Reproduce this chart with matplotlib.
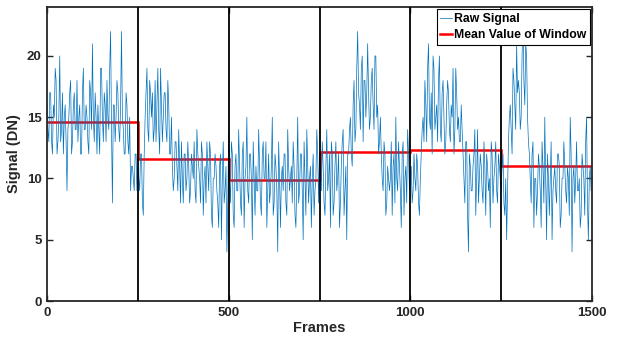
import matplotlib

matplotlib.use("Agg")

import numpy as np
import matplotlib.pyplot as plt

plt.rcParams['font.family'] = ['Liberation Sans', 'DejaVu Sans']
plt.rcParams['font.weight'] = 'bold'

# raw signal: one list per 250-frame window,
# "a" lists at frames 0, 5, 10, ... and "b" lists at 2.5, 7.5, ...
FRAME_STEP = 2.5
w1a = [16, 13, 17, 12, 15, 18, 13, 20, 14, 12,
       16, 9, 15, 18, 13, 17, 14, 13, 16, 12,
       19, 14, 15, 12, 17, 21, 13, 15, 16, 12,
       19, 13, 16, 18, 14, 22, 8, 16, 15, 17,
       13, 22, 14, 12, 16, 12, 9, 11, 9, 12]
w1b = [14, 17, 13, 16, 19, 12, 15, 13, 17, 15,
       13, 14, 17, 12, 16, 14, 18, 15, 12, 17,
       14, 16, 13, 18, 14, 15, 17, 12, 14, 19,
       15, 17, 13, 15, 19, 14, 16, 13, 18, 14,
       16, 15, 12, 17, 13, 15, 11, 10, 12, 9]
w2a = [11, 9, 12, 7,
       15, 19, 13, 17, 17, 14, 13, 19, 12, 16, 15, 17, 13, 16, 12,
       11, 10, 13, 9, 11, 13, 8, 12, 10, 11, 9, 11, 13, 8, 12, 10,
       13, 7, 11, 13, 9, 12, 6, 10, 11, 8, 11, 5, 13, 9, 4]
w2b = [10, 12, 8, 12,
       17, 14, 18, 15, 13, 18, 16, 14, 19, 13, 17, 14, 18, 12, 15,
       9, 13, 11, 14, 8, 10, 12, 9, 13, 8, 12, 10, 9, 14, 11, 8,
       12, 10, 8, 11, 13, 7, 10, 12, 9, 6, 12, 10, 8, 11, 8]
w3a = [14, 8, 12, 6, 12, 9, 11, 7, 13, 10,
       15, 8, 12, 5, 10, 11, 9, 11, 7, 13,
       10, 6, 12, 9, 15, 8, 11, 4, 10, 10,
       9, 12, 7, 11, 10, 8, 11, 6, 15, 9,
       12, 5, 10, 14, 8, 11, 10, 7, 10, 12]
w3b = [10, 13, 7, 11, 9, 14, 8, 12, 6, 11,
       9, 12, 10, 13, 7, 9, 14, 8, 12, 10,
       13, 9, 8, 11, 7, 12, 9, 13, 6, 11,
       12, 8, 14, 9, 11, 13, 7, 10, 8, 12,
       9, 13, 7, 11, 10, 6, 12, 9, 14, 8]
w4a = [12, 9, 11, 7, 14, 10, 6, 12, 8, 13, 10, 6, 11, 14, 9, 5,
       12, 15, 11, 18, 14, 22, 16, 19, 13, 18, 17, 17, 15, 19, 14, 20, 16, 13,
       12, 9, 12, 8, 10, 10, 7, 12, 15, 9, 11, 6, 13, 10, 8, 12]
w4b = [10, 13, 8, 11, 9, 12, 13, 7, 11, 9, 12, 8, 13, 7, 11, 12,
       14, 12, 16, 13, 19, 17, 14, 20, 18, 15, 21, 14, 18, 16, 20, 15, 12, 15,
       10, 13, 7, 11, 9, 13, 11, 8, 10, 13, 9, 12, 7, 11, 14, 9]
w5a = [10, 8, 12, 9, 11, 7, 12,
       15, 18, 13, 21, 14, 12, 19, 15, 13, 20, 13, 18, 12, 16, 17, 13, 15, 12,
       19, 14, 13, 16,
       12, 8, 13, 4, 11, 9, 12, 7, 14, 10, 11, 8, 11, 12, 9, 6, 12, 10, 13, 8, 11]
w5b = [11, 9, 10, 12, 8, 10, 14,
       13, 16, 19, 15, 17, 20, 14, 16, 18, 14, 17, 15, 13, 18, 14, 16, 19, 14,
       17, 15, 13, 14,
       10, 13, 7, 12, 9, 11, 14, 10, 8, 12, 9, 13, 7, 11, 10, 13, 8, 11, 9, 12, 10]
w6a = [9, 12, 7, 5,
       13, 16, 12, 18, 14, 17, 17, 15, 23, 16, 20, 13,
       10, 12, 6, 10, 9, 11, 6, 11, 15, 5, 10, 10, 5, 10, 9, 12, 11, 7,
       10, 11, 8, 10, 15, 4, 11, 10, 9, 10, 7, 11, 7, 15, 5, 11]
w6b = [11, 8, 10, 9,
       15, 14, 19, 16, 21, 18, 14, 20, 18, 21, 15, 12,
       8, 13, 10, 7, 12, 9, 13, 8, 10, 12, 7, 13, 9, 11, 8, 12, 6, 10,
       13, 9, 11, 7, 12, 10, 8, 13, 9, 6, 12, 10, 13, 8, 10, 9]

window_edges = [0, 250, 500, 750, 1000, 1250, 1500]
window_means = [14.6, 11.6, 9.9, 12.2, 12.35, 11.0]

sig_a = np.array(w1a + w2a + w3a + w4a + w5a + w6a, dtype=float)
sig_b = np.array(w1b + w2b + w3b + w4b + w5b + w6b, dtype=float)
signal = np.column_stack([sig_a, sig_b]).ravel()
frames = np.arange(len(signal)) * FRAME_STEP

# %%

fig = plt.figure(figsize=(6.22, 3.44), dpi=100)
ax = fig.add_axes([0.0756, 0.125, 0.8762, 0.8547])

ax.plot(frames, signal, color='#0072BD', linewidth=0.5, label='Raw Signal')
ax.stairs(window_means, window_edges, color='red', linewidth=1.8,
          baseline=None, label='Mean Value of Window')
for xe in window_edges[1:-1]:
    ax.axvline(xe, color='black', linewidth=1.3, zorder=5)

ax.set_xlim(0, 1500)
ax.set_ylim(0, 24)
ax.set_xticks([0, 500, 1000, 1500])
ax.set_yticks([0, 5, 10, 15, 20])
ax.tick_params(direction='in', length=4, width=1, labelsize=9.5,
               top=True, right=True, colors='#262626', pad=4)
for s in ax.spines.values():
    s.set_linewidth(1.3)
    s.set_color('#262626')

ax.set_xlabel('Frames', fontsize=10.5, fontweight='bold', color='#262626', labelpad=2)
ax.set_ylabel('Signal (DN)', fontsize=10.5, fontweight='bold', color='#262626', labelpad=4)

leg = ax.legend(loc='upper right', fontsize=8.8, handlelength=1.0, handletextpad=0.1,
                borderpad=0.3, labelspacing=0.35, fancybox=False, framealpha=1,
                borderaxespad=0.2, handleheight=0.6)
leg.get_frame().set_edgecolor('black')
leg.get_frame().set_linewidth(0.8)
leg.set_zorder(10)

fig.savefig('out.png', dpi=100)
